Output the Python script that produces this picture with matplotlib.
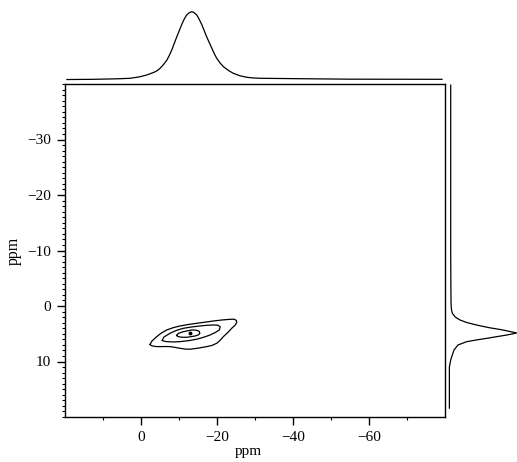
import matplotlib
matplotlib.use("Agg")
import matplotlib.pyplot as plt
from matplotlib.ticker import FixedLocator

plt.rcParams['font.family'] = ['Liberation Serif', 'DejaVu Serif']

# ---- data (ppm) ----
# horizontal projection (top): ppm, relative intensity
top_ppm = [19.5, 12.6, 6.0, 2.9, 0.5, -1.5, -3.5, -4.2, -5.0, -5.9, -6.8, -7.45, -8.1, -8.75,
           -9.4, -10.05, -10.7, -11.35, -12.0, -12.7, -13.3, -13.9, -14.7, -15.35, -16.0,
           -16.65, -17.3, -17.95, -18.6, -19.25, -19.9, -20.8, -21.7, -23.0, -24.3, -26.0,
           -27.8, -29.5, -31.3, -40.0, -55.0, -79.2]
top_int = [0.007, 0.01, 0.018, 0.025, 0.045, 0.073, 0.115, 0.135, 0.17, 0.225, 0.29, 0.36, 0.44, 0.535,
           0.63, 0.72, 0.81, 0.89, 0.95, 0.985, 1.0, 0.99, 0.95, 0.885, 0.81,
           0.72, 0.63, 0.55, 0.47, 0.39, 0.32, 0.25, 0.195, 0.14, 0.098, 0.063,
           0.04, 0.03, 0.025, 0.02, 0.012, 0.01]

# vertical projection (right): ppm, relative intensity
right_ppm = [-39.8, -10.0, -3.0, -0.5, 0.5, 1.32, 2.0, 2.52, 3.0, 3.42, 3.9, 4.32, 4.86, 5.23,
             5.52, 5.82, 6.12, 6.43, 7.03, 7.93, 9.14, 9.73, 11.0, 18.4]
right_int = [0.0, 0.0, 0.003, 0.005, 0.01, 0.025, 0.07, 0.14, 0.25, 0.39, 0.58, 0.79, 1.0, 0.85,
             0.70, 0.55, 0.39, 0.24, 0.11, 0.05, 0.015, 0.0, -0.02, -0.02]

# contour outlines (F2 ppm, F1 ppm)
outer_x = [-2.4, -2.9, -4.13, -5.3, -6.76, -8.5, -10.26, -12.5, -14.66, -17.0, -19.03, -21.3,
           -23.42, -24.5, -25.1, -25.18, -24.7, -23.87, -22.8, -21.66, -20.8, -19.92, -18.7,
           -17.29, -15.0, -12.89, -11.5, -10.26, -8.9, -7.63, -6.3, -5.0, -3.9, -3.08, -2.6, -2.4]
outer_y = [6.9, 6.3, 5.53, 4.9, 4.32, 3.9, 3.60, 3.33, 3.12, 2.9, 2.70, 2.52,
           2.40, 2.38, 2.6, 3.0, 3.5, 4.02, 4.8, 5.53, 6.2, 6.72, 7.1,
           7.32, 7.6, 7.79, 7.75, 7.62, 7.45, 7.32, 7.3, 7.32, 7.3, 7.21, 7.1, 6.9]
middle_x = [-5.6, -6.0, -7.63, -9.3, -11.13, -13.3, -15.53, -17.3, -19.03, -20.2, -20.85, -20.61,
            -19.6, -18.16, -16.4, -14.66, -12.5, -10.26, -8.5, -6.76, -5.9, -5.6]
middle_y = [6.2, 5.6, 4.92, 4.4, 4.02, 3.78, 3.60, 3.48, 3.42, 3.45, 3.75, 4.32,
            4.75, 5.23, 5.65, 5.98, 6.25, 6.42, 6.48, 6.42, 6.3, 6.2]
inner_x = [-9.4, -9.8, -11.13, -13.34, -14.5, -15.3, -15.5, -15.1, -14.21, -12.03, -10.6, -9.7, -9.4]
inner_y = [5.3, 4.95, 4.63, 4.32, 4.35, 4.55, 4.92, 5.2, 5.41, 5.64, 5.62, 5.5, 5.3]
peak_x, peak_y = [-12.89], [4.92]

x_major = [0, -20, -40, -60]
x_minor = [10, -10, -30, -50, -70]
y_major = [-30, -20, -10, 0, 10]
y_minor = [v for v in range(-40, 21) if v not in y_major]
x_labels = ['0', '\u221220', '\u221240', '\u221260']
y_labels = ['\u221230', '\u221220', '\u221210', '0', '10']

# ---- layout ----
W, H = 517, 462
fig = plt.figure(figsize=(W / 100, H / 100), dpi=100)


def rect(x0, y0, x1, y1):
    return [x0 / W, 1 - y1 / H, (x1 - x0) / W, (y1 - y0) / H]


main = fig.add_axes(rect(65, 84, 445, 417))
main.set_xlim(20, -80)
main.set_ylim(20, -40)
for xs, ys in [(outer_x, outer_y), (middle_x, middle_y), (inner_x, inner_y)]:
    main.plot(xs, ys, color='black', lw=0.9, solid_joinstyle='round')
main.plot(peak_x, peak_y, 'o', color='black', ms=1.8)

main.xaxis.set_major_locator(FixedLocator(x_major))
main.xaxis.set_minor_locator(FixedLocator(x_minor))
main.yaxis.set_major_locator(FixedLocator(y_major))
main.yaxis.set_minor_locator(FixedLocator(y_minor))
main.set_xticklabels(x_labels)
main.set_yticklabels(y_labels)
main.tick_params(which='major', direction='out', length=6, width=1.0, labelsize=11, pad=4)
main.tick_params(which='minor', direction='out', length=2.2, width=0.8)
main.set_xlabel('ppm', fontsize=11, labelpad=0.5, x=0.483)
main.set_ylabel('ppm', fontsize=11.5, labelpad=4)
for s in main.spines.values():
    s.set_linewidth(1.0)

top = fig.add_axes(rect(65, 11.7, 445, 80))
top.set_xlim(20, -80)
top.set_ylim(0, 1)
top.plot(top_ppm, top_int, color='black', lw=0.9, clip_on=False, solid_joinstyle='round')
top.axis('off')

right = fig.add_axes(rect(450.7, 84, 516.7, 417))
right.set_xlim(0, 1)
right.set_ylim(20, -40)
right.plot(right_int, right_ppm, color='black', lw=0.9, clip_on=False, solid_joinstyle='round')
right.axis('off')

fig.savefig('out.png', dpi=100)
